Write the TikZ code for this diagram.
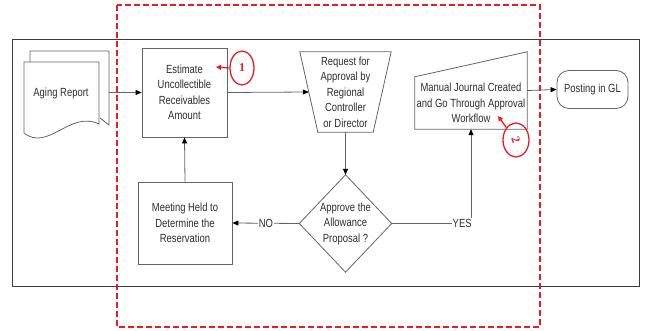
\documentclass[tikz,border=0pt]{standalone}
\usepackage{fontspec}
\setmainfont{Liberation Sans}[FakeStretch=0.8]
\newfontfamily\markfont{Liberation Serif}
\usetikzlibrary{arrows.meta, shapes.geometric}
\definecolor{linegray}{RGB}{100,100,100}
\definecolor{framegray}{RGB}{60,60,60}
\definecolor{textgray}{RGB}{45,45,45}
\definecolor{markred}{RGB}{236,28,36}

\tikzset{
  shapeline/.style={draw=linegray, line width=0.8pt},
  procbox/.style={shapeline, fill=white, align=center, inner sep=0pt},
  hidbox/.style={align=center, inner sep=0pt},
  docpage/.style={shapeline, fill=white},
  flowarrow/.style={draw=linegray, line width=0.8pt, -{Triangle[length=6pt, width=5pt, black]}},
  lbl/.style={fill=white, inner sep=1pt},
  markcircle/.style={ellipse, draw=markred, line width=1.3pt, inner sep=0pt, text=markred, font=\markfont\fontsize{12}{12}\selectfont\bfseries},
  markarrow/.style={draw=markred, line width=1.3pt, -{Triangle[length=5pt, width=5pt]}},
}

\begin{document}
\begin{tikzpicture}[x=1pt, y=-1pt, font=\fontsize{11.8}{15.5}\selectfont, text=textgray]
\useasboundingbox (0,0) rectangle (645,331);
% frame
\draw[framegray, line width=0.7pt] (12,39) rectangle (639,286);

% aging report (stacked documents)
\draw[docpage] (30,62) -- (30,51) -- (109,51) -- (109,125) -- (100,118);
\draw[docpage] (24,62) -- (99,62) -- (99,124) .. controls (70,110) and (48,152) .. (24,133) -- cycle;
\node[hidbox] (aging) at (61,93) {Aging Report};
\coordinate (agingout) at (109,92.5);

% process steps
\node[procbox, minimum width=85, minimum height=89] (estimate) at (184.5,92.5) {Estimate\\Uncollectible\\Receivables\\Amount};
\node[hidbox, minimum width=91, minimum height=80] (request) at (345.5,92) {Request for\\Approval by\\Regional\\Controller\\or Director};
\draw[shapeline] (request.north west) -- (request.north east) -- ([xshift=-18pt]request.south east) -- ([xshift=18pt]request.south west) -- cycle;
\node[hidbox, minimum width=92, minimum height=97] (decision) at (345.5,223.5) {Approve the\\Allowance\\Proposal ?};
\draw[shapeline] (decision.north) -- (decision.east) -- (decision.south) -- (decision.west) -- cycle;
\node[procbox, minimum width=94, minimum height=82] (meeting) at (185,223) {Meeting Held to\\Determine the\\Reservation};
\node[hidbox, minimum width=112, minimum height=77] (manual) at (471,90.5) {};
\draw[shapeline] (manual.south west) -- (manual.south east) -- (manual.north east) -- ([yshift=-25pt]manual.north west) -- cycle;
\node[hidbox] (manualtext) at (471,103) {Manual Journal Created\\and Go Through Approval\\Workflow};
\node[procbox, rounded corners=12pt, minimum width=71, minimum height=38] (posting) at (592.5,89.5) {Posting in GL};

% connectors
\draw[flowarrow] (agingout) -- (estimate.west);
\draw[flowarrow] (estimate.east) -- ([xshift=9pt]request.west);
\draw[flowarrow] (request.south) -- (decision.north);
\draw[flowarrow] (decision.west) -- node[lbl]{NO} (meeting.east);
\draw[flowarrow] (meeting.north) -- (estimate.south);
\draw[flowarrow] (decision.east) -| node[lbl, anchor=east, xshift=2pt]{YES} (manual.south);
\draw[flowarrow] (manual.east) -- (posting.west);

% red markers
\node[markcircle, minimum width=24, minimum height=34] (markone) at (242,68) {1};
\coordinate (markonetip) at (216,67);
\draw[markarrow] (markone.west) -- (markonetip);
\node[markcircle, minimum width=26, minimum height=34] (marktwo) at (516,140) {\rotatebox{-70}{2}};
\coordinate (marktwotip) at (498,116);
\draw[markarrow] (marktwo.north west) -- (marktwotip);

% scope boundary
\draw[markred, line width=1.4pt, dash pattern=on 6pt off 3pt] (117,5) rectangle (540,327);
\end{tikzpicture}
\end{document}
